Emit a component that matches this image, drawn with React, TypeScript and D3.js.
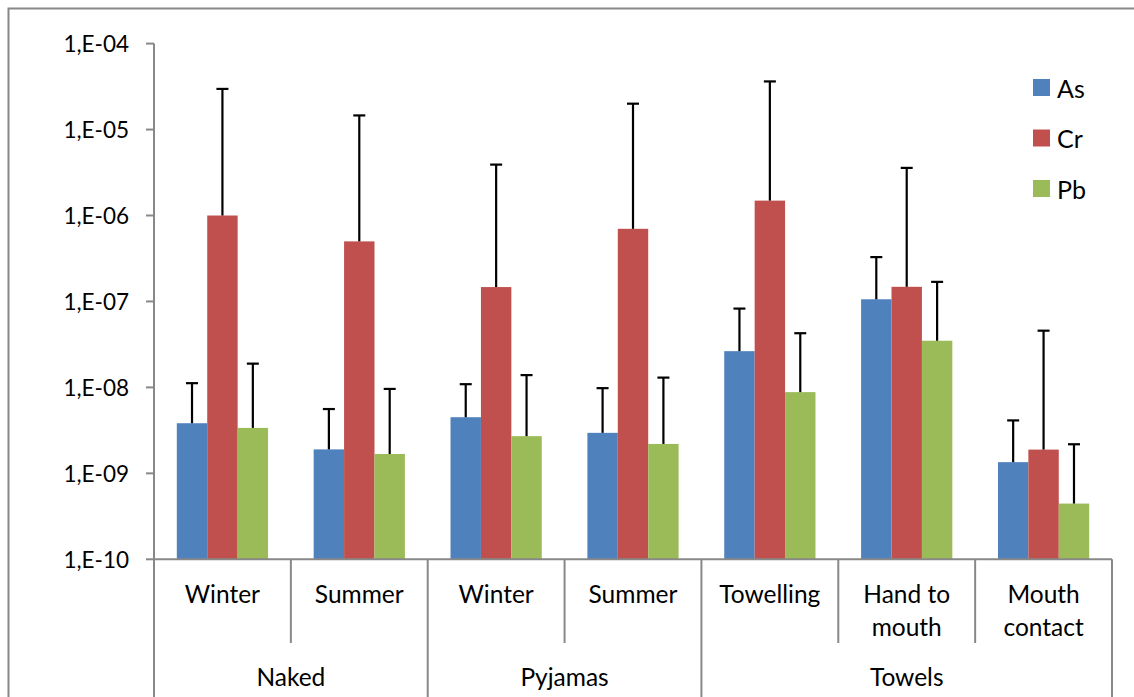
import React from "react";
import * as d3 from "d3";

const categories: string[][] = [
  ["Winter"],
  ["Summer"],
  ["Winter"],
  ["Summer"],
  ["Towelling"],
  ["Hand to", "mouth"],
  ["Mouth", "contact"],
];
const groupNames = ["Naked", "Pyjamas", "Towels"];
const groupSpans = [2, 2, 3];

const seriesNames = ["As", "Cr", "Pb"];
const seriesColors = ["#4F81BD", "#C0504D", "#9BBB59"];

const asValues = [3.83e-9, 1.9e-9, 4.5e-9, 2.96e-9, 2.64e-8, 1.06e-7, 1.35e-9];
const asUpper = [1.12e-8, 5.6e-9, 1.09e-8, 9.8e-9, 8.26e-8, 3.28e-7, 4.13e-9];
const crValues = [1.0e-6, 5.0e-7, 1.47e-7, 7.0e-7, 1.49e-6, 1.48e-7, 1.89e-9];
const crUpper = [2.97e-5, 1.46e-5, 3.91e-6, 2.0e-5, 3.63e-5, 3.58e-6, 4.57e-8];
const pbValues = [3.38e-9, 1.68e-9, 2.71e-9, 2.2e-9, 8.81e-9, 3.49e-8, 4.45e-10];
const pbUpper = [1.89e-8, 9.6e-9, 1.39e-8, 1.3e-8, 4.27e-8, 1.69e-7, 2.18e-9];

const yTicks = [1e-10, 1e-9, 1e-8, 1e-7, 1e-6, 1e-5, 1e-4];
const yTickLabels = ["1,E-10", "1,E-09", "1,E-08", "1,E-07", "1,E-06", "1,E-05", "1,E-04"];

const W = 1134;
const H = 697;
const FONT = "Lato, 'Open Sans', sans-serif";
const AXIS = "#888888";

export default function App() {
  const left = 154;
  const right = 1112;
  const top = 43.6;
  const bottom = 559.3;

  const x = d3
    .scaleBand<number>()
    .domain(categories.map((_, i) => i))
    .range([left, right])
    .paddingInner(0)
    .paddingOuter(0);
  const inner = d3
    .scaleBand<number>()
    .domain([0, 1, 2])
    .range([0, x.bandwidth()])
    .paddingInner(0)
    .paddingOuter(0.75);
  const y = d3.scaleLog().domain([1e-10, 1e-4]).range([bottom, top]);

  const values = [asValues, crValues, pbValues];
  const uppers = [asUpper, crUpper, pbUpper];

  const groupStarts: number[] = [];
  let acc = 0;
  groupSpans.forEach((s) => {
    groupStarts.push(acc);
    acc += s;
  });

  const cat = x.bandwidth();

  return (
    <div style={{ position: "absolute", left: 0, top: 0 }}>
      <svg width={W} height={H} style={{ display: "block", background: "#fff" }}>
        <rect x={0} y={0} width={W} height={H} fill="#fff" />
        <path d={`M8.5,${H} V8.5 H${W}`} fill="none" stroke={AXIS} strokeWidth={2} />

        {values.map((vals, s) =>
          vals.map((v, i) => {
            const bx = (x(i) as number) + (inner(s) as number);
            const bw = inner.bandwidth();
            return (
              <rect
                key={`b${s}-${i}`}
                x={bx}
                y={y(v)}
                width={bw}
                height={bottom - y(v)}
                fill={seriesColors[s]}
              />
            );
          })
        )}

        {uppers.map((ups, s) =>
          ups.map((u, i) => {
            const cx = (x(i) as number) + (inner(s) as number) + inner.bandwidth() / 2;
            return (
              <g key={`e${s}-${i}`} stroke="#000" strokeWidth={2.2}>
                <line x1={cx} x2={cx} y1={y(values[s][i])} y2={y(u)} />
                <line x1={cx - 6} x2={cx + 6} y1={y(u)} y2={y(u)} />
              </g>
            );
          })
        )}

        <line x1={left} x2={left} y1={top} y2={H} stroke={AXIS} strokeWidth={2} />
        {yTicks.map((t, i) => (
          <g key={`yt${i}`}>
            <line x1={left - 8} x2={left} y1={y(t)} y2={y(t)} stroke={AXIS} strokeWidth={2} />
            <text
              x={129}
              y={y(t)}
              textAnchor="end"
              dominantBaseline="central"
              fontFamily={FONT}
              fontSize={22.5}
              fill="#000"
            >
              {yTickLabels[i]}
            </text>
          </g>
        ))}

        <line x1={left} x2={right} y1={bottom} y2={bottom} stroke={AXIS} strokeWidth={2} />
        {categories.map((_, i) => {
          if (i === 0) return null;
          const isGroupStart = groupStarts.includes(i);
          return (
            <line
              key={`sep${i}`}
              x1={x(i) as number}
              x2={x(i) as number}
              y1={bottom}
              y2={isGroupStart ? H : 643}
              stroke={AXIS}
              strokeWidth={2}
            />
          );
        })}
        <line x1={right} x2={right} y1={bottom} y2={H} stroke={AXIS} strokeWidth={2} />

        {categories.map((lines, i) => (
          <text
            key={`cl${i}`}
            x={(x(i) as number) + cat / 2}
            y={593}
            textAnchor="middle"
            fontFamily={FONT}
            fontSize={24.5}
            fill="#000"
          >
            {lines.map((l, j) => (
              <tspan key={j} x={(x(i) as number) + cat / 2} y={593 + j * 33} dominantBaseline="central">
                {l}
              </tspan>
            ))}
          </text>
        ))}

        {groupNames.map((g, gi) => {
          const x0 = x(groupStarts[gi]) as number;
          const x1 = x0 + groupSpans[gi] * cat;
          return (
            <text
              key={`g${gi}`}
              x={(x0 + x1) / 2}
              y={676}
              textAnchor="middle"
              dominantBaseline="central"
              fontFamily={FONT}
              fontSize={24.5}
              fill="#000"
            >
              {g}
            </text>
          );
        })}

        {seriesNames.map((n, i) => (
          <g key={`lg${i}`} transform={`translate(1033,${79 + i * 50.5})`}>
            <rect x={0} y={0} width={17} height={17} fill={seriesColors[i]} />
            <text x={24} y={8.5} dominantBaseline="central" fontFamily={FONT} fontSize={25} fill="#000">
              {n}
            </text>
          </g>
        ))}
      </svg>
    </div>
  );
}
